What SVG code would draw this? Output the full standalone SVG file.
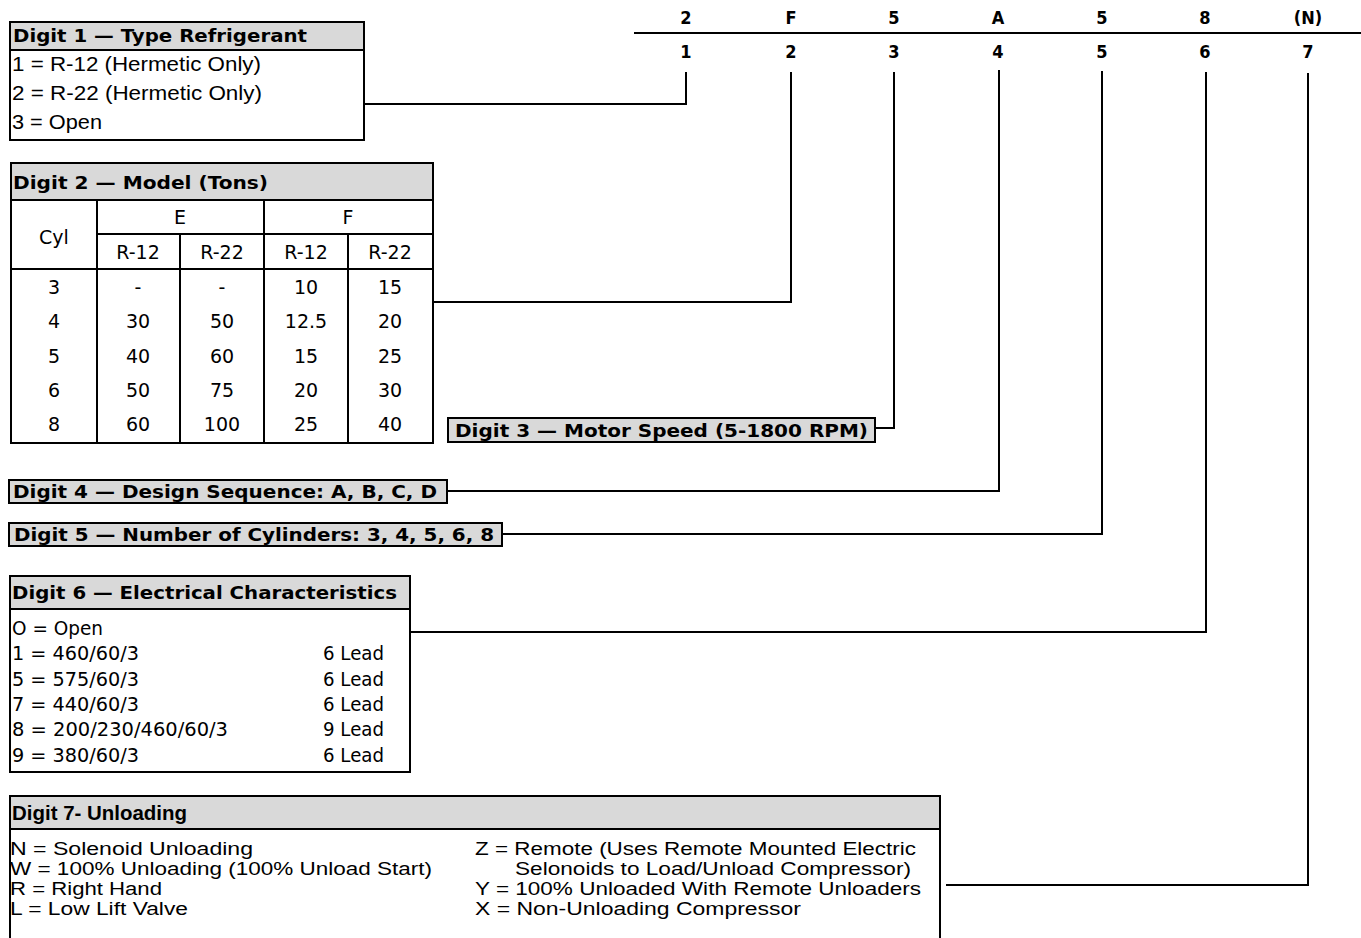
<svg xmlns="http://www.w3.org/2000/svg" width="1361" height="938" viewBox="0 0 1361 938">
<style>
.bg{fill:#ffffff}
.box{fill:#ffffff;stroke:#000;stroke-width:2}
.hdr{fill:#d9d9d9;stroke:#000;stroke-width:2}
.ln{stroke:#000;stroke-width:2;fill:none}
.conn{stroke:#000;stroke-width:2;fill:none}
.hb{font-family:"DejaVu Sans","Liberation Sans",sans-serif;font-weight:bold;font-size:18px;fill:#000}
.vr{font-family:"DejaVu Sans","Liberation Sans",sans-serif;font-size:19px;fill:#000}
.ar{font-family:"Liberation Sans",Arial,sans-serif;font-size:20px;fill:#000}
.nr{font-family:"Liberation Sans Narrow","Liberation Sans",sans-serif;font-size:17.5px;fill:#000}
.nb{font-family:"Liberation Sans Narrow","Liberation Sans",sans-serif;font-size:20px;font-weight:bold;fill:#000}
.top{font-family:"DejaVu Sans Condensed","DejaVu Sans","Liberation Sans",sans-serif;font-weight:bold;font-size:18px;fill:#000;text-anchor:middle}
.c{text-anchor:middle}
</style>
<rect class="bg" x="0" y="0" width="1361" height="938"/>

<g id="code-header">
<line class="ln" x1="634" y1="33" x2="1361" y2="33"/>
<text class="top" x="686" y="24">2</text>
<text class="top" x="791" y="24">F</text>
<text class="top" x="894" y="24">5</text>
<text class="top" x="998" y="24">A</text>
<text class="top" x="1102" y="24">5</text>
<text class="top" x="1205" y="24">8</text>
<text class="top" x="1308" y="24">(N)</text>
<text class="top" x="686" y="58">1</text>
<text class="top" x="791" y="58">2</text>
<text class="top" x="894" y="58">3</text>
<text class="top" x="998" y="58">4</text>
<text class="top" x="1102" y="58">5</text>
<text class="top" x="1205" y="58">6</text>
<text class="top" x="1308" y="58">7</text>
</g>

<g id="digit1">
<rect class="box" x="10" y="22" width="354" height="118"/>
<rect class="hdr" x="10" y="22" width="354" height="28"/>
<text class="hb" x="13" y="42" textLength="294" lengthAdjust="spacingAndGlyphs">Digit 1 — Type Refrigerant</text>
<text class="ar" x="12" y="71" textLength="249" lengthAdjust="spacingAndGlyphs">1 = R-12 (Hermetic Only)</text>
<text class="ar" x="12" y="100" textLength="250" lengthAdjust="spacingAndGlyphs">2 = R-22 (Hermetic Only)</text>
<text class="ar" x="12" y="129" textLength="90" lengthAdjust="spacingAndGlyphs">3 = Open</text>
</g>

<g id="digit2">
<rect class="box" x="11" y="163" width="422" height="280"/>
<rect class="hdr" x="11" y="163" width="422" height="37"/>
<text class="hb" x="13" y="189" textLength="255" lengthAdjust="spacingAndGlyphs">Digit 2 — Model (Tons)</text>
<line class="ln" x1="97" y1="234" x2="433" y2="234"/>
<line class="ln" x1="11" y1="269" x2="433" y2="269"/>
<line class="ln" x1="97" y1="200" x2="97" y2="443"/>
<line class="ln" x1="264" y1="200" x2="264" y2="443"/>
<line class="ln" x1="180" y1="234" x2="180" y2="443"/>
<line class="ln" x1="348" y1="234" x2="348" y2="443"/>
<text class="vr c" x="54" y="244">Cyl</text>
<text class="vr c" x="180" y="224">E</text>
<text class="vr c" x="348" y="224">F</text>
<text class="vr c" x="138" y="259">R-12</text>
<text class="vr c" x="222" y="259">R-22</text>
<text class="vr c" x="306" y="259">R-12</text>
<text class="vr c" x="390" y="259">R-22</text>
<text class="vr c" x="54" y="294">3</text><text class="vr c" x="138" y="294">-</text><text class="vr c" x="222" y="294">-</text><text class="vr c" x="306" y="294">10</text><text class="vr c" x="390" y="294">15</text>
<text class="vr c" x="54" y="328">4</text><text class="vr c" x="138" y="328">30</text><text class="vr c" x="222" y="328">50</text><text class="vr c" x="306" y="328">12.5</text><text class="vr c" x="390" y="328">20</text>
<text class="vr c" x="54" y="363">5</text><text class="vr c" x="138" y="363">40</text><text class="vr c" x="222" y="363">60</text><text class="vr c" x="306" y="363">15</text><text class="vr c" x="390" y="363">25</text>
<text class="vr c" x="54" y="397">6</text><text class="vr c" x="138" y="397">50</text><text class="vr c" x="222" y="397">75</text><text class="vr c" x="306" y="397">20</text><text class="vr c" x="390" y="397">30</text>
<text class="vr c" x="54" y="431">8</text><text class="vr c" x="138" y="431">60</text><text class="vr c" x="222" y="431">100</text><text class="vr c" x="306" y="431">25</text><text class="vr c" x="390" y="431">40</text>
</g>

<g id="digit3">
<rect class="hdr" x="448" y="418" width="427" height="24"/>
<text class="hb" x="455" y="437" textLength="413" lengthAdjust="spacingAndGlyphs">Digit 3 — Motor Speed (5-1800 RPM)</text>
</g>

<g id="digit4">
<rect class="hdr" x="9" y="480" width="438" height="23"/>
<text class="hb" x="13" y="498" textLength="424" lengthAdjust="spacingAndGlyphs">Digit 4 — Design Sequence: A, B, C, D</text>
</g>

<g id="digit5">
<rect class="hdr" x="9" y="523" width="493" height="23"/>
<text class="hb" x="14" y="541" textLength="480" lengthAdjust="spacingAndGlyphs">Digit 5 — Number of Cylinders: 3, 4, 5, 6, 8</text>
</g>

<g id="digit6">
<rect class="box" x="10" y="576" width="400" height="196"/>
<rect class="hdr" x="10" y="576" width="400" height="33"/>
<text class="hb" x="12" y="599" textLength="385" lengthAdjust="spacingAndGlyphs">Digit 6 — Electrical Characteristics</text>
<text class="vr" x="12" y="635" textLength="91" lengthAdjust="spacingAndGlyphs">O = Open</text>
<text class="vr" x="12" y="660" textLength="127" lengthAdjust="spacingAndGlyphs">1 = 460/60/3</text>
<text class="vr" x="12" y="686" textLength="127" lengthAdjust="spacingAndGlyphs">5 = 575/60/3</text>
<text class="vr" x="12" y="711" textLength="127" lengthAdjust="spacingAndGlyphs">7 = 440/60/3</text>
<text class="vr" x="12" y="736" textLength="216" lengthAdjust="spacingAndGlyphs">8 = 200/230/460/60/3</text>
<text class="vr" x="12" y="762" textLength="127" lengthAdjust="spacingAndGlyphs">9 = 380/60/3</text>
<text class="vr" x="323" y="660" textLength="61" lengthAdjust="spacingAndGlyphs">6 Lead</text>
<text class="vr" x="323" y="686" textLength="61" lengthAdjust="spacingAndGlyphs">6 Lead</text>
<text class="vr" x="323" y="711" textLength="61" lengthAdjust="spacingAndGlyphs">6 Lead</text>
<text class="vr" x="323" y="736" textLength="61" lengthAdjust="spacingAndGlyphs">9 Lead</text>
<text class="vr" x="323" y="762" textLength="61" lengthAdjust="spacingAndGlyphs">6 Lead</text>
</g>

<g id="digit7">
<rect class="box" x="10" y="796" width="930" height="160"/>
<rect class="hdr" x="10" y="796" width="930" height="33"/>
<text class="nb" x="12" y="820" textLength="175" lengthAdjust="spacingAndGlyphs">Digit 7- Unloading</text>
<text class="nr" x="10" y="855" textLength="243" lengthAdjust="spacingAndGlyphs">N = Solenoid Unloading</text>
<text class="nr" x="10" y="875" textLength="422" lengthAdjust="spacingAndGlyphs">W = 100% Unloading (100% Unload Start)</text>
<text class="nr" x="10" y="895" textLength="152" lengthAdjust="spacingAndGlyphs">R = Right Hand</text>
<text class="nr" x="10" y="915" textLength="178" lengthAdjust="spacingAndGlyphs">L = Low Lift Valve</text>
<text class="nr" x="475" y="855" textLength="441" lengthAdjust="spacingAndGlyphs">Z = Remote (Uses Remote Mounted Electric</text>
<text class="nr" x="515" y="875" textLength="396" lengthAdjust="spacingAndGlyphs">Selonoids to Load/Unload Compressor)</text>
<text class="nr" x="475" y="895" textLength="446" lengthAdjust="spacingAndGlyphs">Y = 100% Unloaded With Remote Unloaders</text>
<text class="nr" x="475" y="915" textLength="326" lengthAdjust="spacingAndGlyphs">X = Non-Unloading Compressor</text>
</g>

<g id="connectors">
<path class="conn" d="M364,104 H686 V72"/>
<path class="conn" d="M433,302 H791 V72"/>
<path class="conn" d="M875,428 H894 V72"/>
<path class="conn" d="M447,491 H999 V70"/>
<path class="conn" d="M502,534 H1102 V71"/>
<path class="conn" d="M410,632 H1206 V72"/>
<path class="conn" d="M946,885 H1308 V73"/>
</g>
</svg>
